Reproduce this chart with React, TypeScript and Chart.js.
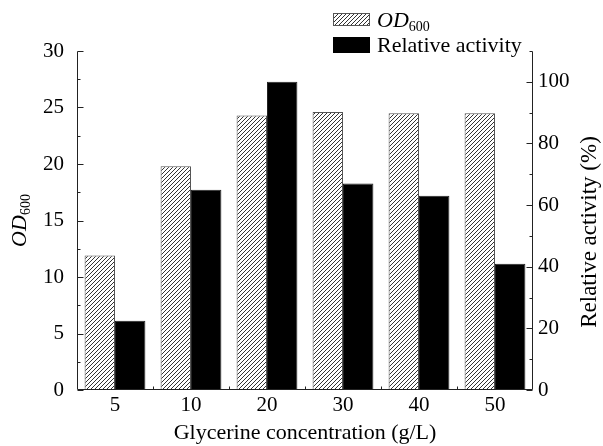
import React, { useEffect, useRef } from "react";
import { Chart, registerables } from "chart.js";

Chart.register(...registerables);

const categories = ["5", "10", "20", "30", "40", "50"];
const od600 = [11.9, 19.8, 24.3, 24.6, 24.5, 24.5];
const relativeActivity = [22.5, 65, 100, 67, 63, 41];
const leftTicks = [0, 5, 10, 15, 20, 25, 30];
const rightTicks = [0, 20, 40, 60, 80, 100];

const FONT = '"Liberation Serif", "Times New Roman", serif';

function makeHatch(): CanvasPattern | string {
  const c = document.createElement("canvas");
  const n = 4;
  c.width = n;
  c.height = n;
  const g = c.getContext("2d");
  if (!g) return "#888";
  g.fillStyle = "#ffffff";
  g.fillRect(0, 0, n, n);
  g.strokeStyle = "#333";
  g.lineWidth = 1;
  g.beginPath();
  g.moveTo(0, n);
  g.lineTo(n, 0);
  g.moveTo(-1, 1);
  g.lineTo(1, -1);
  g.moveTo(n - 1, n + 1);
  g.lineTo(n + 1, n - 1);
  g.stroke();
  const p = g.createPattern(c, "repeat");
  return p || "#888";
}

function drawOD(ctx: CanvasRenderingContext2D, x: number, y: number, big: number, small: number) {
  ctx.textAlign = "left";
  ctx.textBaseline = "alphabetic";
  ctx.font = `italic ${big}px ${FONT}`;
  ctx.fillText("OD", x, y);
  const w = ctx.measureText("OD").width;
  ctx.font = `${small}px ${FONT}`;
  ctx.fillText("600", x + w, y + small * 0.25);
  return w + ctx.measureText("600").width;
}

function measureOD(ctx: CanvasRenderingContext2D, big: number, small: number) {
  ctx.font = `italic ${big}px ${FONT}`;
  const w = ctx.measureText("OD").width;
  ctx.font = `${small}px ${FONT}`;
  return w + ctx.measureText("600").width;
}

export default function App() {
  const ref = useRef<HTMLCanvasElement | null>(null);

  useEffect(() => {
    document.body.style.margin = "0";
    const canvas = ref.current;
    if (!canvas) return;
    const hatch = makeHatch();

    const decor = {
      id: "decor",
      afterDraw(chart: any) {
        const ctx: CanvasRenderingContext2D = chart.ctx;
        const a = chart.chartArea;
        const y = chart.scales.y;
        const y1 = chart.scales.y1;
        const x = chart.scales.x;
        ctx.save();
        ctx.strokeStyle = "#222";
        ctx.lineWidth = 1;
        const L = Math.round(a.left) + 0.5;
        const R = Math.round(a.right) - 0.5;
        const B = Math.round(a.bottom) - 0.5;
        const T = Math.round(a.top) + 0.5;
        ctx.beginPath();
        ctx.moveTo(L, T);
        ctx.lineTo(L, B);
        ctx.lineTo(R, B);
        ctx.lineTo(R, T);
        for (let v = 0; v <= 30.001; v += 2.5) {
          const py = Math.round(y.getPixelForValue(v)) + 0.5;
          const len = Math.abs(v % 5) < 0.01 ? 6 : 3;
          ctx.moveTo(L, py);
          ctx.lineTo(L + len, py);
        }
        for (let v = 0; v <= 110.001; v += 10) {
          const py = Math.round(y1.getPixelForValue(v)) + 0.5;
          const len = v % 20 === 0 ? 6 : 3;
          ctx.moveTo(R, py);
          ctx.lineTo(R - len, py);
        }
        for (let i = 1; i < categories.length; i++) {
          const px = Math.round((x.getPixelForValue(i - 1) + x.getPixelForValue(i)) / 2) + 0.5;
          ctx.moveTo(px, B);
          ctx.lineTo(px, B - 3);
        }
        ctx.stroke();

        ctx.fillStyle = "#000";
        ctx.font = `22px ${FONT}`;
        ctx.textAlign = "center";
        ctx.textBaseline = "middle";
        ctx.fillText("Glycerine concentration (g/L)", (a.left + a.right) / 2, 433);

        ctx.save();
        ctx.font = `23px ${FONT}`;
        ctx.translate(590, 232);
        ctx.rotate(-Math.PI / 2);
        ctx.fillText("Relative activity (%)", 0, 0);
        ctx.restore();

        ctx.save();
        ctx.translate(18, (a.top + a.bottom) / 2);
        ctx.rotate(-Math.PI / 2);
        const w = measureOD(ctx, 22, 14);
        drawOD(ctx, -w / 2, 8, 22, 14);
        ctx.restore();

        const bx = 333, bw = 37;
        ctx.fillStyle = hatch as any;
        ctx.fillRect(bx, 13, bw, 13);
        ctx.strokeStyle = "#555";
        ctx.strokeRect(bx + 0.5, 13.5, bw - 1, 12);
        ctx.fillStyle = "#000";
        ctx.fillRect(bx, 37, bw, 16);
        drawOD(ctx, 377, 27, 22, 14);
        ctx.font = `22px ${FONT}`;
        ctx.textAlign = "left";
        ctx.textBaseline = "alphabetic";
        ctx.fillText("Relative activity", 377, 52);
        ctx.restore();
      },
    };

    const chart = new Chart(canvas, {
      type: "bar",
      data: {
        labels: categories,
        datasets: [
          {
            label: "OD600",
            data: od600,
            yAxisID: "y",
            backgroundColor: hatch as any,
            borderColor: "#555",
            borderWidth: 1,
            borderSkipped: "bottom",
            categoryPercentage: 0.8,
            barPercentage: 1.0,
          },
          {
            label: "Relative activity",
            data: relativeActivity,
            yAxisID: "y1",
            backgroundColor: "#000",
            borderColor: "#222",
            borderWidth: 1,
            borderSkipped: "bottom",
            categoryPercentage: 0.8,
            barPercentage: 1.0,
          },
        ],
      },
      options: {
        responsive: false,
        animation: false,
        events: [],
        layout: { padding: { top: 51, left: 0, right: 0, bottom: 0 } },
        plugins: {
          legend: { display: false },
          tooltip: { enabled: false },
          title: { display: false },
        },
        scales: {
          x: {
            type: "category",
            offset: true,
            grid: { display: false, drawTicks: false },
            border: { display: false },
            ticks: { color: "#000", font: { family: FONT, size: 21 }, padding: 3, maxRotation: 0 },
            afterFit: (s: any) => {
              s.height = 56;
            },
          },
          y: {
            position: "left",
            min: 0,
            max: 30,
            afterBuildTicks: (s: any) => {
              s.ticks = leftTicks.map((v) => ({ value: v }));
            },
            grid: { display: false, drawTicks: false },
            border: { display: false },
            ticks: { color: "#000", font: { family: FONT, size: 21 }, padding: 13 },
            afterFit: (s: any) => {
              s.width = 77;
            },
          },
          y1: {
            position: "right",
            min: 0,
            max: 110,
            afterBuildTicks: (s: any) => {
              s.ticks = rightTicks.map((v) => ({ value: v }));
            },
            grid: { display: false, drawTicks: false },
            border: { display: false },
            ticks: { color: "#000", font: { family: FONT, size: 21 }, padding: 5 },
            afterFit: (s: any) => {
              s.width = 70;
            },
          },
        },
      },
      plugins: [decor],
    });

    return () => {
      chart.destroy();
    };
  }, []);

  return (
    <div style={{ width: 603, height: 446 }}>
      <canvas ref={ref} width={603} height={446} style={{ display: "block" }} />
    </div>
  );
}
